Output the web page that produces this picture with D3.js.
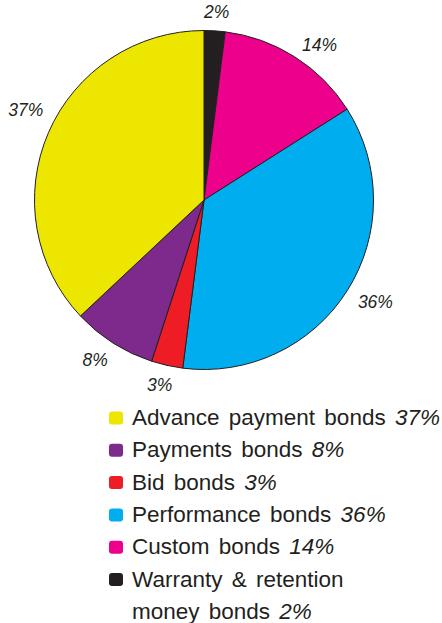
<!DOCTYPE html>
<html>
<head>
<meta charset="utf-8">
<script src="https://cdn.jsdelivr.net/npm/d3@7"></script>
<style>
  html, body { margin: 0; padding: 0; background: #fff; }
  svg { display: block; }
  text { font-family: "Liberation Sans", Arial, sans-serif; fill: #231f20; }
</style>
</head>
<body>
<svg id="chart" width="442" height="623"></svg>
<script>
// Bond types, clockwise from 12 o'clock
const categories = [
  "Warranty & retention money bonds",
  "Custom bonds",
  "Performance bonds",
  "Bid bonds",
  "Payments bonds",
  "Advance payment bonds"
];
const shares = [2, 14, 36, 3, 8, 37];
const colors = ["#231f20", "#ec008c", "#00aeef", "#ee1c25", "#7d2a8c", "#ede600"];

// Legend order and wrapped legend lines
const legendOrder = [
  "Advance payment bonds",
  "Payments bonds",
  "Bid bonds",
  "Performance bonds",
  "Custom bonds",
  "Warranty & retention money bonds"
];
const legendLines = {
  "Warranty & retention money bonds": ["Warranty & retention", "money bonds"]
};

const data = categories.map((c, i) => ({ name: c, value: shares[i], color: colors[i] }));

const svg = d3.select("#chart");
const cx = 204, cy = 200, radius = 169.5;

const pie = d3.pie().value(d => d.value).sort(null);
const arcs = pie(data);
const arc = d3.arc().innerRadius(0).outerRadius(radius);

const g = svg.append("g").attr("transform", `translate(${cx},${cy})`);

g.selectAll("path.slice")
  .data(arcs)
  .join("path")
  .attr("class", "slice")
  .attr("d", arc)
  .attr("fill", d => d.data.color)
  .attr("stroke", "#231f20")
  .attr("stroke-width", 1)
  .attr("stroke-linejoin", "round");

// Percentage labels just outside the rim
const labelRadius = 189;
const angleNudge = { "Advance payment bonds": 0.09, "Custom bonds": 0.04 };
g.selectAll("text.pct")
  .data(arcs)
  .join("text")
  .attr("class", "pct")
  .each(function (d) {
    const a = (d.startAngle + d.endAngle) / 2 + (angleNudge[d.data.name] || 0);
    const x = Math.sin(a) * labelRadius + Math.sin(a) * 14;
    const y = -Math.cos(a) * labelRadius;
    d3.select(this).attr("x", x).attr("y", y).attr("dy", "0.38em");
  })
  .attr("text-anchor", "middle")
  .attr("font-size", 17.5)
  .attr("font-style", "italic")
  .text(d => d.data.value + "%");

// Legend
const byName = new Map(data.map(d => [d.name, d]));
const legend = svg.append("g").attr("transform", "translate(109,0)");
const rowStep = 32.3;
let row = 0;
legendOrder.forEach(name => {
  const d = byName.get(name);
  const lines = legendLines[name] || [name];
  const baseY = 425 + row * rowStep;
  legend.append("rect")
    .attr("x", 0).attr("y", baseY - 13.5)
    .attr("width", 14).attr("height", 13)
    .attr("rx", 3).attr("ry", 3)
    .attr("fill", d.color);
  lines.forEach((ln, j) => {
    const t = legend.append("text")
      .attr("x", 23)
      .attr("y", baseY + j * rowStep)
      .attr("font-size", 22.5)
      .attr("word-spacing", 3);
    t.append("tspan").text(ln);
    if (j === lines.length - 1) {
      t.append("tspan").attr("font-style", "italic").text(" " + d.value + "%");
    }
  });
  row += lines.length;
});
</script>
</body>
</html>
